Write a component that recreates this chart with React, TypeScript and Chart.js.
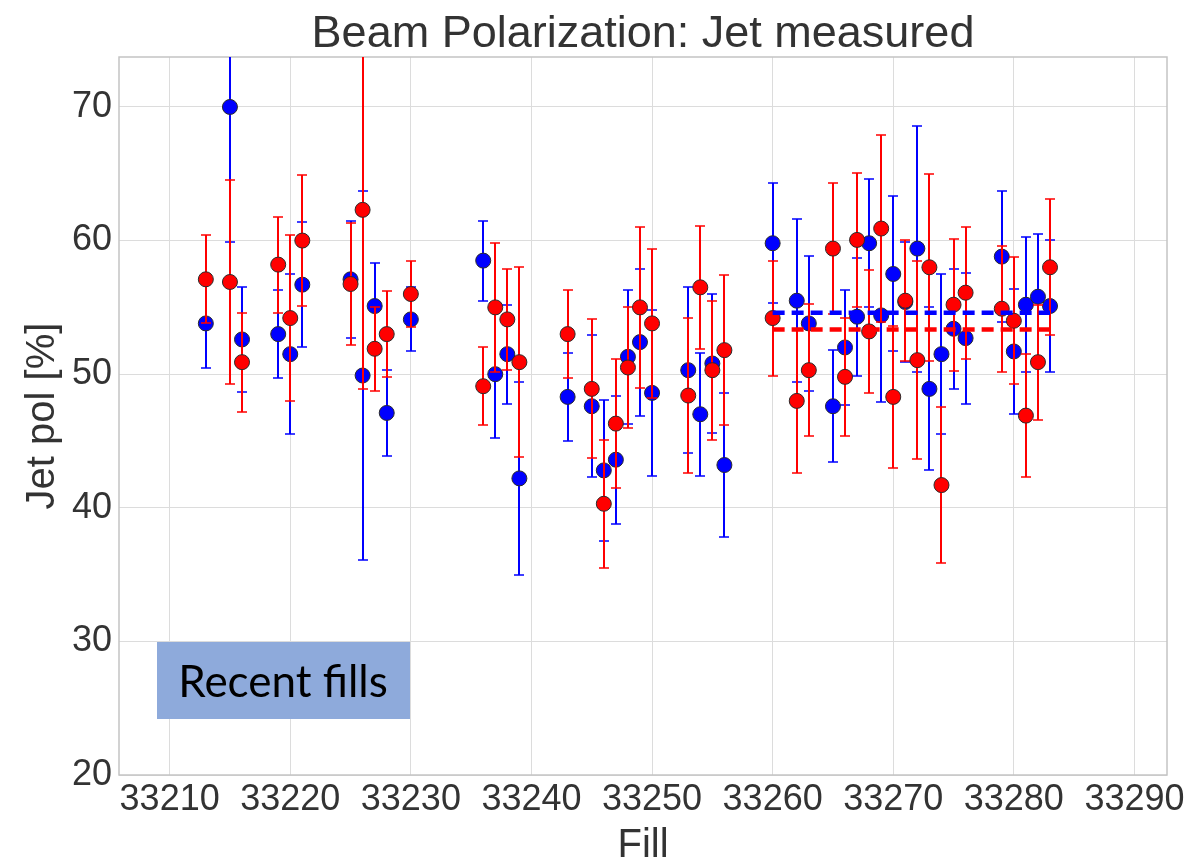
import React, { useEffect, useRef } from 'react';
import { Chart, registerables } from 'chart.js';

Chart.register(...registerables);

const chartTitle = 'Beam Polarization: Jet measured';
const xTitle = 'Fill';
const yTitle = 'Jet pol [%]';
const noteText = 'Recent fills';

const fills = [
  33213, 33215, 33216, 33219, 33220, 33221, 33225, 33226, 33227, 33228, 33230,
  33236, 33237, 33238, 33239, 33243, 33245, 33246, 33247, 33248, 33249, 33250,
  33253, 33254, 33255, 33256, 33260, 33262, 33263, 33265, 33266, 33267, 33268,
  33269, 33270, 33271, 33272, 33273, 33274, 33275, 33276, 33279, 33280, 33281,
  33282, 33283,
];

const blueValues = [
  53.8, 70.0, 52.6, 53.0, 51.5, 56.7, 57.1, 49.9, 55.1, 47.1, 54.1,
  58.5, 50.0, 51.5, 42.2, 48.3, 47.6, 42.8, 43.6, 51.3, 52.4, 48.6,
  50.3, 47.0, 50.8, 43.2, 59.8, 55.5, 53.8, 47.6, 52.0, 54.3, 59.8,
  54.4, 57.5, 55.4, 59.4, 48.9, 51.5, 53.4, 52.7, 58.8, 51.7, 55.2,
  55.8, 55.1,
];
const blueErrors = [
  3.3, 10.1, 3.9, 3.3, 6.0, 4.7, 4.4, 13.8, 3.2, 3.2, 2.4,
  3.0, 4.8, 3.7, 7.2, 3.3, 5.3, 5.3, 4.8, 5.0, 5.5, 6.2,
  6.2, 4.6, 5.2, 5.4, 4.5, 6.1, 5.05, 4.2, 4.3, 4.4, 4.8,
  6.5, 5.8, 4.5, 9.2, 6.1, 6.0, 4.5, 4.9, 4.9, 4.7, 5.05,
  4.7, 4.95,
];

const redValues = [
  57.1, 56.9, 50.9, 58.2, 54.2, 60.0, 56.75, 62.3, 51.9, 53.0, 56.0,
  49.1, 55.0, 54.1, 50.9, 53.0, 48.9, 40.3, 46.3, 50.5, 55.0, 53.8,
  48.4, 56.5, 50.3, 51.8, 54.2, 48.0, 50.3, 59.4, 49.8, 60.05, 53.2,
  60.9, 48.3, 55.5, 51.05, 58.0, 41.7, 55.2, 56.1, 54.9, 54.0, 46.9,
  50.9, 58.0,
];
const redErrors = [
  3.3, 7.6, 3.7, 3.6, 6.2, 4.9, 4.55, 13.4, 3.15, 3.2, 2.45,
  2.9, 4.8, 3.8, 7.1, 3.3, 5.2, 4.8, 4.8, 4.55, 6.0, 5.6,
  5.8, 4.6, 5.2, 5.6, 4.3, 5.4, 4.95, 4.9, 4.4, 5.0, 4.6,
  7.0, 5.3, 4.55, 7.4, 7.0, 5.85, 4.95, 4.95, 4.7, 4.75, 4.6,
  4.3, 5.1,
];

const avgFills = [33260, 33283];
const blueAverage = [54.6, 54.6];
const redAverage = [53.35, 53.35];

const xTickValues = [33210, 33220, 33230, 33240, 33250, 33260, 33270, 33280, 33290];
const yTickValues = [20, 30, 40, 50, 60, 70];

const FONT = '"Liberation Sans", Arial, sans-serif';
const TEXT_COLOR = '#333333';

const errorMap: Record<string, { values: number[]; errors: number[]; color: string }> = {
  red: { values: redValues, errors: redErrors, color: 'rgb(255,0,0)' },
  blue: { values: blueValues, errors: blueErrors, color: 'rgb(0,0,255)' },
};

const errorBarPlugin = {
  id: 'errorBars',
  beforeDatasetDraw(chart: any, args: any) {
    const ds = chart.data.datasets[args.index];
    const info = errorMap[ds.errKey];
    if (!info) return;
    const { ctx, chartArea } = chart;
    const xs = chart.scales.x;
    const ys = chart.scales.y;
    ctx.save();
    ctx.beginPath();
    ctx.rect(chartArea.left, chartArea.top, chartArea.right - chartArea.left, chartArea.bottom - chartArea.top);
    ctx.clip();
    ctx.strokeStyle = info.color;
    fills.forEach((f, i) => {
      const px = Math.round(xs.getPixelForValue(f));
      const top = Math.round(ys.getPixelForValue(info.values[i] + info.errors[i]));
      const bot = Math.round(ys.getPixelForValue(info.values[i] - info.errors[i]));
      ctx.lineWidth = 2;
      ctx.beginPath();
      ctx.moveTo(px, top);
      ctx.lineTo(px, bot);
      ctx.stroke();
      ctx.lineWidth = 1.5;
      ctx.beginPath();
      ctx.moveTo(px - 5, top);
      ctx.lineTo(px + 5, top);
      ctx.moveTo(px - 5, bot);
      ctx.lineTo(px + 5, bot);
      ctx.stroke();
    });
    ctx.restore();
  },
};

const decorPlugin = {
  id: 'decor',
  beforeDatasetsDraw(chart: any) {
    const { ctx, chartArea } = chart;
    ctx.save();
    ctx.strokeStyle = '#c4c4c4';
    ctx.lineWidth = 1.5;
    ctx.strokeRect(chartArea.left, chartArea.top, chartArea.right - chartArea.left, chartArea.bottom - chartArea.top);
    ctx.restore();
  },
  afterDraw(chart: any) {
    const { ctx, chartArea } = chart;
    const cx = (chartArea.left + chartArea.right) / 2;
    const cy = (chartArea.top + chartArea.bottom) / 2;
    ctx.save();
    ctx.fillStyle = TEXT_COLOR;
    ctx.textAlign = 'center';
    ctx.textBaseline = 'alphabetic';
    ctx.font = `45px ${FONT}`;
    ctx.fillText(chartTitle, cx, 47);
    ctx.font = `40px ${FONT}`;
    ctx.fillText(xTitle, cx, 857);
    ctx.translate(54, cy);
    ctx.rotate(-Math.PI / 2);
    ctx.fillText(yTitle, 0, 0);
    ctx.restore();

    ctx.save();
    ctx.fillStyle = '#8eaadb';
    ctx.fillRect(157, 642, 253, 77);
    ctx.fillStyle = '#000000';
    ctx.font = '44px Lato, "Open Sans", sans-serif';
    ctx.textAlign = 'center';
    ctx.textBaseline = 'alphabetic';
    ctx.fillText(noteText, 283, 697);
    ctx.restore();
  },
};

export default function App() {
  const ref = useRef<HTMLCanvasElement>(null);
  useEffect(() => {
    document.body.style.margin = '0';
    const canvas = ref.current!;
    const chart = new Chart(canvas, {
      type: 'scatter',
      data: {
        datasets: [
          {
            label: 'blue avg',
            data: avgFills.map((f, i) => ({ x: f, y: blueAverage[i] })),
            showLine: true,
            borderColor: 'rgb(0,0,255)',
            borderWidth: 4.5,
            borderDash: [12, 7],
            pointRadius: 0,
            order: 0,
          },
          {
            label: 'red avg',
            data: avgFills.map((f, i) => ({ x: f, y: redAverage[i] })),
            showLine: true,
            borderColor: 'rgb(255,0,0)',
            borderWidth: 4.5,
            borderDash: [12, 7],
            pointRadius: 0,
            order: 0,
          },
          {
            label: 'red',
            errKey: 'red',
            data: fills.map((f, i) => ({ x: f, y: redValues[i] })),
            backgroundColor: 'rgb(255,0,0)',
            borderColor: '#2a2a2a',
            borderWidth: 1,
            pointRadius: 7.5,
            order: 1,
          } as any,
          {
            label: 'blue',
            errKey: 'blue',
            data: fills.map((f, i) => ({ x: f, y: blueValues[i] })),
            backgroundColor: 'rgb(0,0,255)',
            borderColor: '#2a2a2a',
            borderWidth: 1,
            pointRadius: 7.5,
            order: 2,
          } as any,
        ],
      },
      options: {
        responsive: false,
        animation: false,
        devicePixelRatio: 1,
        layout: { padding: { top: 57, right: 22, left: 0, bottom: 0 } },
        plugins: {
          legend: { display: false },
          tooltip: { enabled: false },
          title: { display: false },
        },
        scales: {
          x: {
            type: 'linear',
            min: 33205.8,
            max: 33292.7,
            afterBuildTicks: (s: any) => {
              s.ticks = xTickValues.map((v) => ({ value: v }));
            },
            afterFit: (s: any) => {
              s.height = 84;
            },
            ticks: {
              stepSize: 10,
              padding: 3,
              color: TEXT_COLOR,
              font: { family: FONT, size: 36 },
              callback: (v: any) => String(v),
              maxRotation: 0,
              autoSkip: false,
            },
            grid: { color: '#dcdcdc', lineWidth: 1, drawTicks: false },
            border: { display: false },
          },
          y: {
            type: 'linear',
            min: 20,
            max: 73.74,
            afterBuildTicks: (s: any) => {
              s.ticks = yTickValues.map((v) => ({ value: v }));
            },
            afterFit: (s: any) => {
              s.width = 119;
            },
            ticks: {
              stepSize: 10,
              padding: 7,
              color: TEXT_COLOR,
              font: { family: FONT, size: 36 },
              callback: (v: any) => String(v),
              autoSkip: false,
            },
            grid: { color: '#dcdcdc', lineWidth: 1, drawTicks: false },
            border: { display: false },
          },
        },
      },
      plugins: [errorBarPlugin, decorPlugin],
    });
    return () => chart.destroy();
  }, []);
  return (
    <div style={{ width: 1189, height: 859, background: '#ffffff' }}>
      <canvas ref={ref} width={1189} height={859} style={{ display: 'block', width: 1189, height: 859 }} />
    </div>
  );
}
